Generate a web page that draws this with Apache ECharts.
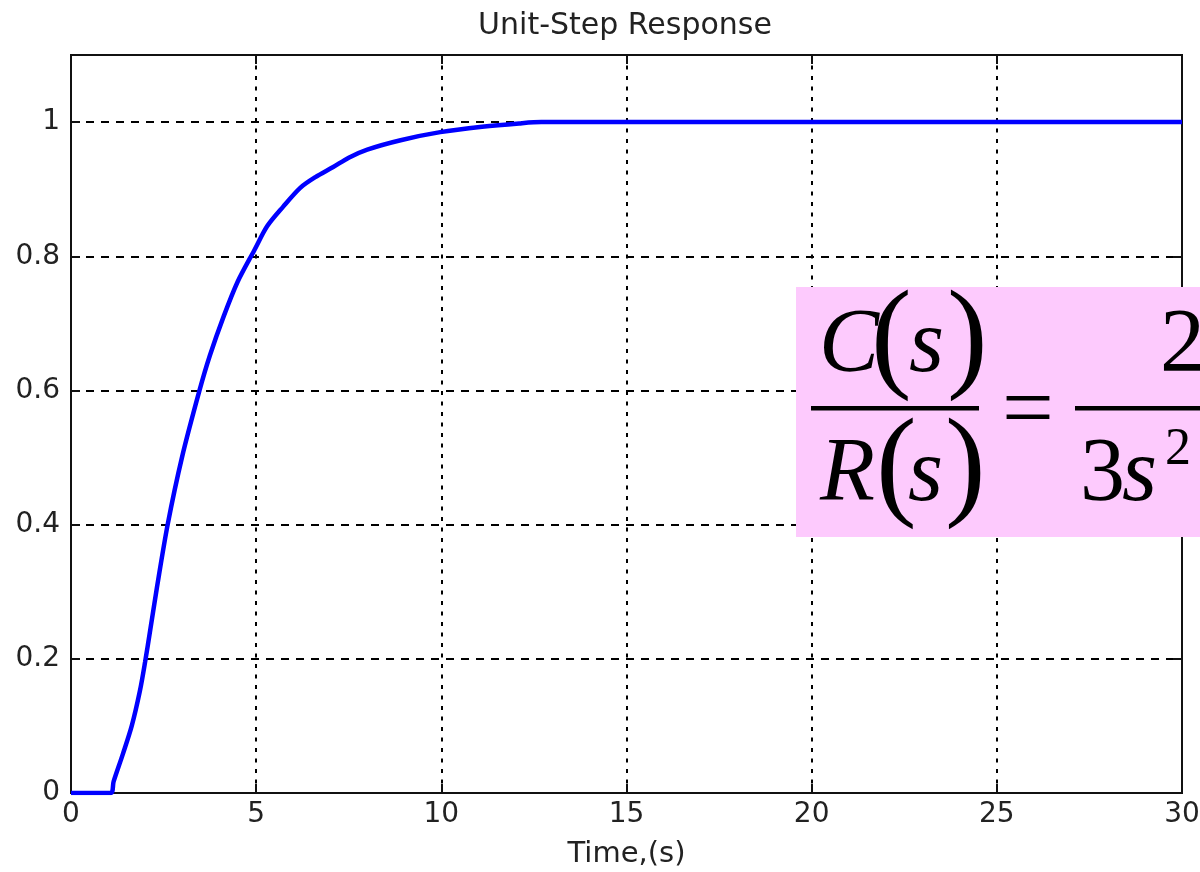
<!DOCTYPE html>
<html>
<head>
  <meta charset="utf-8">
  <title>Unit-Step Response</title>
</head>
<body style="margin: 0; background: #fff">
  <div id="chart_div" style="width: 1200px; height: 872px;"></div>

  <script src="https://fastly.jsdelivr.net/npm/echarts@6/dist/echarts.min.js"></script>
  <script>
    // step response
    var timeS = [0, 1.07, 1.15, 1.4, 1.64, 1.86, 2.0, 2.14, 2.32, 2.61, 3.0, 3.47, 3.75, 4.12, 4.5, 4.95, 5.3, 5.73, 6.19, 6.6, 7.08, 7.5, 8.0, 8.9, 9.97, 11.1, 12.1, 12.7, 15, 20, 25, 30];
    var response = [0, 0, 0.017, 0.058, 0.1, 0.152, 0.195, 0.243, 0.306, 0.4, 0.501, 0.6, 0.652, 0.71, 0.762, 0.809, 0.845, 0.874, 0.902, 0.918, 0.933, 0.947, 0.959, 0.973, 0.985, 0.993, 0.998, 1.0, 1.0, 1.0, 1.0, 1.0];
    var xTicks = [0, 5, 10, 15, 20, 25, 30];
    var yTicks = [0, 0.2, 0.4, 0.6, 0.8, 1];

    var points = timeS.map(function (t, i) { return [t, response[i]]; });

    var dom = document.getElementById('chart_div');
    var myChart = echarts.init(dom, null, { renderer: 'canvas' });

    var serif = 'Liberation Serif';
    var axisLine = { show: true, onZero: false, lineStyle: { color: '#111', width: 2 } };
    var axisTick = { show: true, inside: true, length: 9, lineStyle: { color: '#111', width: 2 } };

    var option = {
      backgroundColor: '#fff',
      animation: false,
      title: {
        text: 'Unit-Step Response',
        left: 620,
        top: 6,
        textAlign: 'center',
        textStyle: { fontFamily: 'DejaVu Sans', fontSize: 30, fontWeight: 'normal', color: '#222' }
      },
      grid: {
        left: 71, right: 18, top: 55, bottom: 79,
        outerBoundsMode: 'none',
        show: true,
        borderColor: '#111',
        borderWidth: 2,
        backgroundColor: '#fff'
      },
      xAxis: [{
        type: 'value',
        min: 0, max: 30, interval: 5,
        name: 'Time,(s)',
        nameLocation: 'middle',
        nameGap: 47,
        nameTextStyle: { fontFamily: 'DejaVu Sans', fontSize: 29, color: '#222' },
        axisLine: axisLine,
        axisTick: axisTick,
        axisLabel: {
          margin: 8, fontFamily: 'DejaVu Sans', fontSize: 28, color: '#222',
          formatter: function (v) { return xTicks.indexOf(v) >= 0 ? String(v) : ''; }
        },
        splitLine: { show: true, lineStyle: { color: '#000', width: 2, type: [4, 6.5] } }
      }, {
        type: 'value', position: 'top',
        min: 0, max: 30, interval: 5,
        axisLine: axisLine,
        axisTick: axisTick,
        axisLabel: { show: false },
        splitLine: { show: false }
      }],
      yAxis: [{
        type: 'value',
        min: 0, max: 1.1, interval: 0.2,
        axisLine: axisLine,
        axisTick: axisTick,
        axisLabel: {
          margin: 11, showMaxLabel: false, fontFamily: 'DejaVu Sans', fontSize: 28, color: '#222',
          formatter: function (v) {
            for (var i = 0; i < yTicks.length; i++) {
              if (Math.abs(yTicks[i] - v) < 1e-6) return String(yTicks[i]);
            }
            return '';
          }
        },
        splitLine: { show: true, lineStyle: { color: '#000', width: 2, type: [8, 7] } }
      }, {
        type: 'value', position: 'right',
        min: 0, max: 1.1, interval: 0.2,
        axisLine: axisLine,
        axisTick: axisTick,
        axisLabel: { show: false },
        splitLine: { show: false }
      }],
      series: [{
        type: 'line',
        data: points,
        showSymbol: false,
        smooth: 0.3,
        lineStyle: { color: '#0000ff', width: 4.5 },
        z: 5
      }],
      // transfer function overlay (cut off at the right edge, as in the picture)
      graphic: [
        { type: 'rect', z: 100, shape: { x: 796, y: 287, width: 420, height: 250 }, style: { fill: '#fdcafd' } },
        // numerator C(s)
        { type: 'text', z: 101, style: { x: 819, y: 347, text: 'C', font: 'italic 90px ' + serif, fill: '#000', verticalAlign: 'middle' } },
        { type: 'text', z: 101, style: { x: 871, y: 343, text: '(', font: '122px ' + serif, fill: '#000', verticalAlign: 'middle' } },
        { type: 'text', z: 101, style: { x: 909, y: 347, text: 's', font: 'italic 90px ' + serif, fill: '#000', verticalAlign: 'middle' } },
        { type: 'text', z: 101, style: { x: 947, y: 343, text: ')', font: '122px ' + serif, fill: '#000', verticalAlign: 'middle' } },
        // fraction bars
        { type: 'rect', z: 101, shape: { x: 811, y: 406, width: 168, height: 4.5 }, style: { fill: '#000' } },
        { type: 'rect', z: 101, shape: { x: 1075, y: 406, width: 140, height: 4.5 }, style: { fill: '#000' } },
        // denominator R(s)
        { type: 'text', z: 101, style: { x: 820, y: 476, text: 'R', font: 'italic 90px ' + serif, fill: '#000', verticalAlign: 'middle' } },
        { type: 'text', z: 101, style: { x: 876, y: 471, text: '(', font: '122px ' + serif, fill: '#000', verticalAlign: 'middle' } },
        { type: 'text', z: 101, style: { x: 908, y: 476, text: 's', font: 'italic 90px ' + serif, fill: '#000', verticalAlign: 'middle' } },
        { type: 'text', z: 101, style: { x: 945, y: 471, text: ')', font: '122px ' + serif, fill: '#000', verticalAlign: 'middle' } },
        // equals sign
        { type: 'text', z: 101, style: { x: 1002, y: 414, text: '=', font: '92px ' + serif, fill: '#000', verticalAlign: 'middle' } },
        // right side 2 / 3s^2
        { type: 'text', z: 101, style: { x: 1160, y: 347, text: '2', font: '90px ' + serif, fill: '#000', verticalAlign: 'middle' } },
        { type: 'text', z: 101, style: { x: 1080, y: 476, text: '3', font: '90px ' + serif, fill: '#000', verticalAlign: 'middle' } },
        { type: 'text', z: 101, style: { x: 1122, y: 476, text: 's', font: 'italic 90px ' + serif, fill: '#000', verticalAlign: 'middle' } },
        { type: 'text', z: 101, style: { x: 1165, y: 450, text: '2', font: '52px ' + serif, fill: '#000', verticalAlign: 'middle' } }
      ]
    };

    myChart.setOption(option);
    window.addEventListener('resize', myChart.resize);
  </script>
</body>
</html>
